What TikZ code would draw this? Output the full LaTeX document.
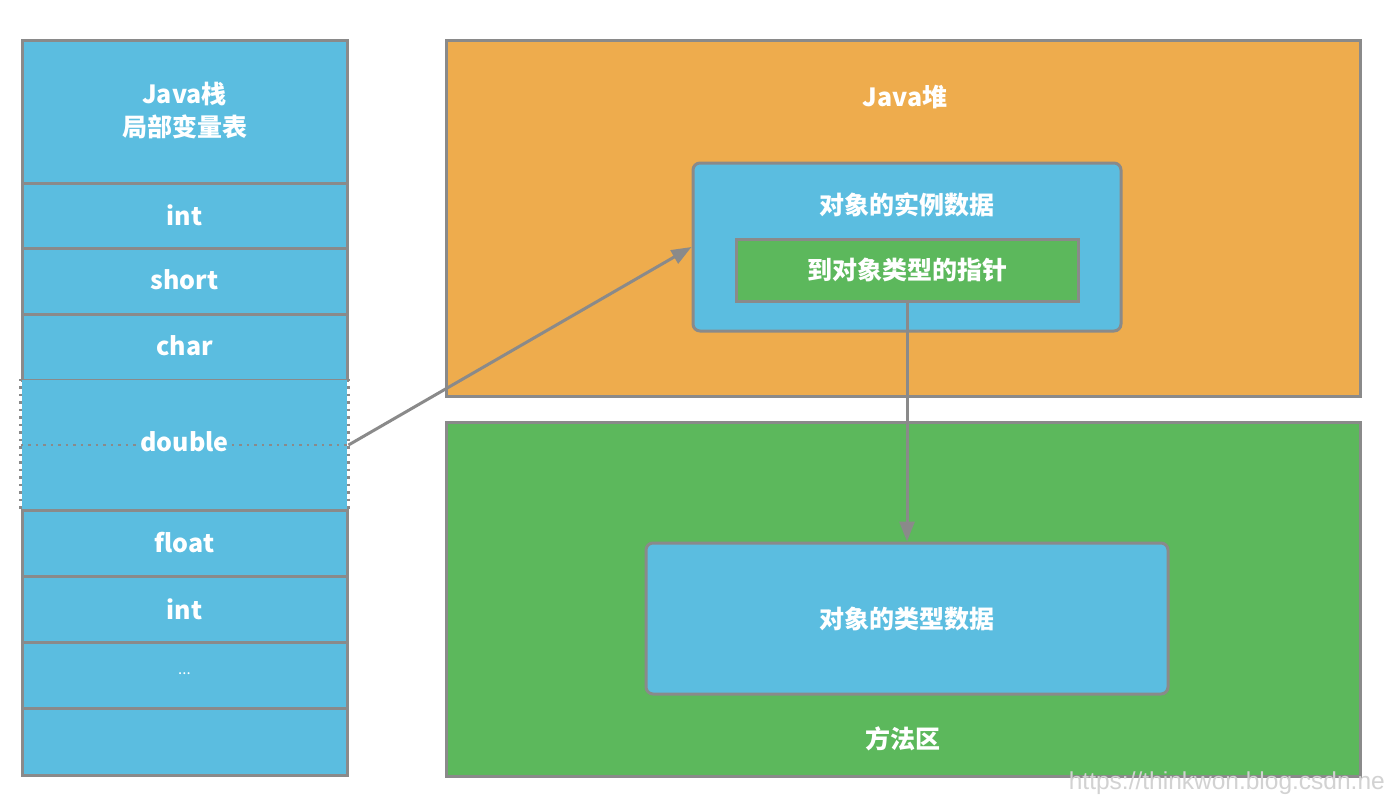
\documentclass[tikz,border=0pt]{standalone}
\usepackage{fontspec}
\newfontfamily\cjk{Noto Sans CJK SC}
\newfontfamily\markfont{Liberation Sans}
\usetikzlibrary{arrows.meta}
\definecolor{sky}{HTML}{5BBDE0}
\definecolor{heapfill}{HTML}{EEAC4D}
\definecolor{methfill}{HTML}{5CB85C}
\definecolor{edge}{HTML}{8A8A8A}
\tikzset{
  txt/.style={text=white, font=\cjk\bfseries\fontsize{25}{33}\selectfont, align=center, inner sep=4pt},
  cell/.style={rectangle, draw=edge, line width=3pt, fill=sky, minimum width=325pt, inner sep=0pt},
  region/.style={rectangle, draw=edge, line width=3pt, inner sep=0pt},
  panel/.style={rectangle, rounded corners=7pt, draw=edge, line width=3pt, fill=sky, inner sep=0pt},
  link/.style={draw=edge, line width=3pt, -{Triangle[length=20pt,width=15pt]}},
  dotline/.style={draw=edge, line width=2.5pt, dash pattern=on 2.5pt off 5pt}
}
\begin{document}
\begin{tikzpicture}[x=1pt,y=-1pt]
\clip (0,0) rectangle (1386,796);
\fill[white] (0,0) rectangle (1386,796);

% local variable table of the Java stack
\node[cell, minimum height=143pt] (head) at (184.5,111.5) {};
\node[cell, minimum height=65pt]  (c1) at (184.5,215.5) {};
\node[cell, minimum height=66pt]  (c2) at (184.5,281) {};
\node[cell, minimum height=66pt]  (c3) at (184.5,347) {};
\node[cell, draw=none, minimum height=130pt] (dbl) at (184.5,445) {};
\node[cell, minimum height=66pt]  (c5) at (184.5,543) {};
\node[cell, minimum height=66pt]  (c6) at (184.5,609) {};
\node[cell, minimum height=66pt]  (c7) at (184.5,675) {};
\node[cell, minimum height=67pt]  (c8) at (184.5,741.5) {};
\draw[dotline] (dbl.north west) -- (dbl.south west);
\draw[dotline] (dbl.north east) -- (dbl.south east);

\node[txt] (headtxt) at (184.5,111) {Java栈\\局部变量表};
\node[txt] (t1) at (184.5,215) {int};
\node[txt] (t2) at (184.5,280) {short};
\node[txt] (t3) at (184.5,346) {char};
\node[txt, inner sep=3pt] (t4) at (184.5,442) {double};
\node[txt] (t5) at (184.5,543) {float};
\node[txt] (t6) at (184.5,609) {int};
\node[txt, font=\cjk\fontsize{15}{17}\selectfont] (t7) at (184.5,674) {...};
\draw[dotline] (dbl.west) -- (dbl.west -| t4.west);
\draw[dotline] (dbl.east -| t4.east) -- (dbl.east);

% Java heap
\node[region, fill=heapfill, minimum width=914pt, minimum height=356pt] (heap) at (903,218) {};
\node[txt] (heaptxt) at (905,97) {Java堆};
\node[panel, minimum width=428pt, minimum height=168pt] (inst) at (907,247) {};
\node[txt] (insttxt) at (907,205) {对象的实例数据};
\node[region, fill=methfill, minimum width=342pt, minimum height=62pt] (ptr) at (907,270) {};
\node[txt] (ptrtxt) at (907,270) {到对象类型的指针};

% method area
\node[region, fill=methfill, minimum width=914pt, minimum height=354pt] (meth) at (903,599) {};
\node[panel, minimum width=522pt, minimum height=151pt] (minfo) at (907,618.5) {};
\node[txt] (minfotxt) at (907,619) {对象的类型数据};
\node[txt] (methtxt) at (903,739) {方法区};

% references
\draw[link] (dbl.east) -- (inst.west);
\draw[link] (ptr.south) -- (minfo.north);

\node[anchor=east, inner sep=0pt, text=gray!35, font=\markfont\fontsize{24.5}{29}\selectfont] (mark) at (1385,783) {https://thinkwon.blog.csdn.ne};
\end{tikzpicture}
\end{document}
